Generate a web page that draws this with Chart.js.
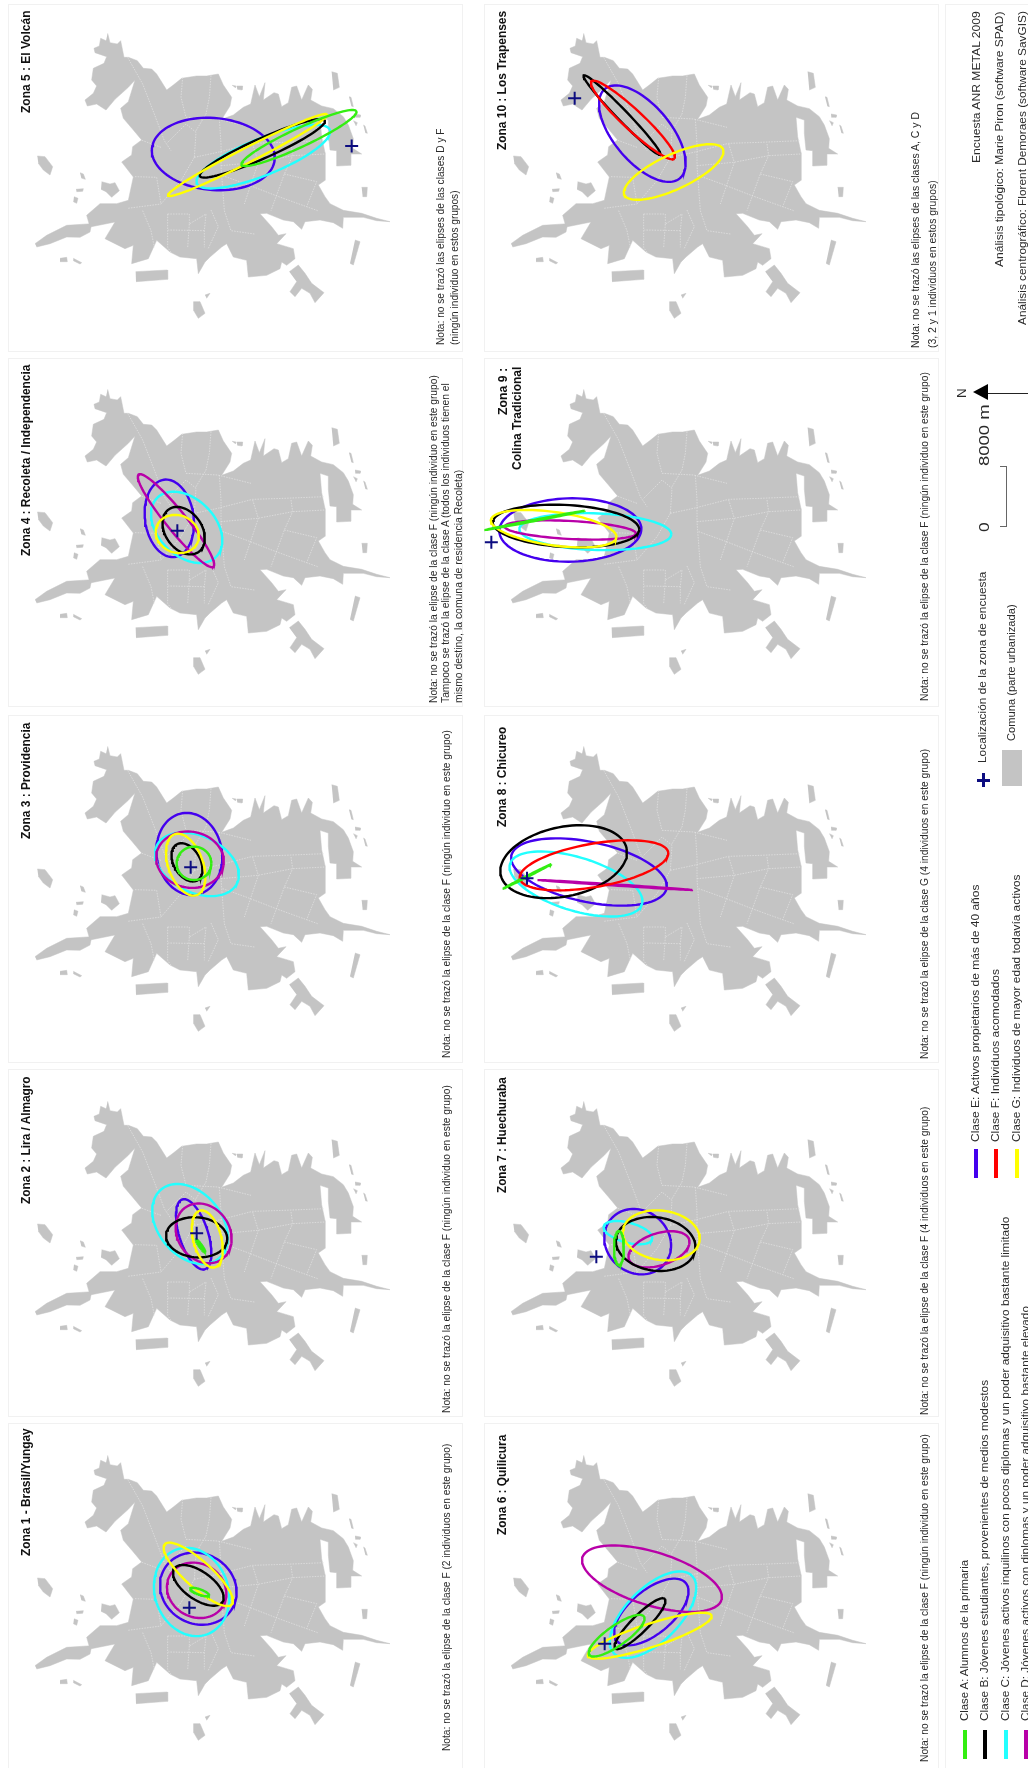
<!DOCTYPE html>
<html lang="es"><head><meta charset="utf-8">
<script src="https://cdn.jsdelivr.net/npm/chart.js@4"></script>
<style>
html,body{margin:0;padding:0;background:#fff}
#page{position:relative;width:1028px;height:1768px;overflow:hidden;font-family:"Liberation Sans",Arial,sans-serif;filter:blur(0.35px)}
.panel{position:absolute;border:1.5px solid #f1f1f1;box-sizing:border-box}
canvas{position:absolute;display:block}
.t{position:absolute;white-space:nowrap;transform-origin:0 0;color:#2a2a2a}
.s{position:absolute}
</style></head><body><div id="page"></div>
<script>
// Class colours and legend
const CLASS_COLORS = {A:'#33ee11',B:'#000000',C:'#22ffff',D:'#b800a8',E:'#4400ee',F:'#ff0000',G:'#ffff00'};
const DRAW_ORDER = ['E','C','D','B','F','G','A'];
// Urban area outline, map units
const MAP_MAIN = [[323,100],[330,128],[352,132],[362,122],[372,172],[385,172],[412,182],[430,205],[455,207],[470,222],[500,270],[520,255],[545,235],[590,228],[620,228],[655,222],[670,255],[695,292],[690,318],[665,358],[700,345],[730,322],[752,312],[765,255],[778,290],[795,248],[790,300],[822,278],[835,282],[845,320],[865,308],[875,262],[890,258],[905,300],[925,255],[937,268],[932,300],[965,318],[1000,326],[1030,350],[1045,375],[1060,416],[1058,445],[1085,462],[1052,462],[1052,496],[1010,498],[1010,452],[990,450],[985,400],[985,360],[960,352],[965,410],[975,458],[975,541],[955,555],[975,590],[990,611],[1030,631],[1085,640],[1130,655],[1170,665],[1130,662],[1090,652],[1030,652],[1028,685],[1000,668],[960,660],[915,665],[905,688],[880,665],[850,660],[800,640],[780,641],[815,680],[835,706],[858,701],[830,731],[880,746],[885,776],[860,796],[845,786],[840,806],[800,826],[745,831],[740,781],[700,771],[680,731],[665,741],[630,771],[615,786],[595,821],[590,776],[540,771],[510,756],[470,721],[445,776],[395,791],[400,736],[375,746],[315,716],[345,666],[270,681],[260,646],[300,611],[350,611],[385,601],[400,531],[365,486],[395,465],[398,440],[425,420],[400,390],[370,355],[362,325],[385,305],[405,240],[385,262],[345,298],[318,330],[290,312],[262,318],[255,300],[280,280],[290,258],[275,240],[280,205],[312,190],[320,170],[285,158],[282,145],[298,138],[302,115],[318,122]];
const MAP_ISLANDS = [
 [[407,815],[502,810],[503,838],[408,845]],
 [[112,468],[135,470],[158,500],[150,525],[130,510],[115,490]],
 [[240,518],[250,522],[256,538],[244,534]],
 [[305,545],[330,552],[345,548],[358,572],[335,592],[318,575],[303,568]],
 [[228,568],[250,566],[248,574],[230,575]],
 [[222,590],[234,595],[230,610],[220,605]],
 [[105,731],[140,706],[200,676],[275,671],[270,696],[240,712],[200,711],[150,731],[110,741]],
 [[180,775],[200,772],[202,785],[180,785]],
 [[220,775],[245,788],[240,792],[220,782]],
 [[868,815],[895,795],[915,820],[935,850],[972,878],[945,908],[930,880],[905,865],[885,890],[870,875],[890,845]],
 [[1065,720],[1080,725],[1060,795],[1050,790]],
 [[580,905],[600,905],[615,940],[595,955],[580,930]],
 [[615,885],[630,880],[620,895]],
 [[1085,562],[1102,562],[1100,590],[1088,590]],
 [[995,215],[1012,220],[1018,262],[1000,270]],
 [[696,256],[708,258],[706,264]],[[710,258],[728,258],[726,270],[712,268]],
 [[1047,290],[1053,292],[1060,320],[1054,318]],
 [[1065,342],[1082,345],[1080,352],[1066,352]],
 [[1060,362],[1072,368],[1068,378]],
 [[1090,375],[1095,378],[1102,400],[1096,398]]
];
const COMMUNE_LINES = [
 [[383,172],[428,252],[463,342],[493,422],[513,452]],
 [[548,232],[543,292],[558,352]],[[633,227],[628,292],[618,342],[588,392]],
 [[503,427],[558,372],[588,397],[583,472]],
 [[558,352],[653,357],[753,382]],
 [[658,357],[663,432],[663,497],[673,632]],
 [[583,472],[653,457],[758,430],[853,427],[973,422]],
 [[663,497],[773,487],[878,467],[975,462]],
 [[758,432],[775,487],[733,612]],[[873,432],[878,467],[853,522],[813,632]],
 [[668,527],[738,552],[828,587],[953,632]],[[853,522],[950,545],[920,620]],
 [[583,472],[543,542],[483,612],[383,625]],
 [[483,442],[423,420]],[[405,530],[470,532],[483,612]],
 [[428,632],[453,692],[463,742]],
 [[503,642],[503,742],[513,757]],[[503,642],[568,642],[568,672],[618,642],[613,692],[613,742]],
 [[568,672],[563,742]],[[613,692],[505,690]],
 [[673,632],[693,692],[763,702]],[[633,630],[655,680],[625,745]]
];
// Ellipses read per zone: class, centre x, centre y, semi-major, semi-minor, rotation degrees
const ZONE_1 = [['C',575,510,135,110,70],['E',595,500,118,105,30],['D',590,505,92,80,30],['B',595,490,88,42,35],['G',595,457,135,40,42],['A',599,510,30,8,20]];
const ZONE_2 = [['C',570,468,135,95,50],['E',581,499,110,43,72],['D',611,496,95,78,55],['B',590,508,92,60,5],['G',622,513,88,42,75],['A',602,533,24,4,55]];
const ZONE_3 = [['E',568,423,124,98,80],['D',570,440,102,84,10],['C',591,454,133,85,25],['G',557,455,97,52,70],['B',561,448,62,40,60],['A',582,451,52,50,0]];
const ZONE_4 = [['E',508,487,117,73,82],['D',528,494,178,30,51],['C',560,514,125,85,45],['B',551,524,78,55,55],['G',532,534,66,56,20]];
const ZONE_5 = [['E',640,462,185,108,5],['C',790,470,215,55,-22],['B',787,445,205,30,-24],['G',743,465,268,22,-27],['A',897,414,190,28,-25]];
const ZONE_6 = [['D',528,470,218,80,17],['C',531,578,165,80,-45],['E',526,570,135,65,-40],['B',492,605,105,25,-45],['G',521,641,195,35,-18],['A',422,641,100,30,-35]];
const ZONE_7 = [['E',485,521,105,93,40],['C',456,494,75,30,15],['B',539,528,120,80,8],['D',549,544,95,48,-18],['G',556,502,116,74,8],['A',429,540,51,15,90]];
const ZONE_8 = [['B',263,446,193,104,-12],['E',339,477,238,90,12],['C',300,513,207,80,17],['F',354,457,226,65,-10],['D',418,516,231,2,3.7],['A',154,490,80,2,-27]];
const ZONE_9 = [['E',283,522,213,95,-1],['C',358,527,228,55,2],['B',270,510,220,63,3],['D',283,522,197,27,3],['G',233,518,190,50,8],['A',177,493,152,2,-11]];
const ZONE_10 = [['E',499,401,175,85,50],['F',471,360,170,30,43],['B',438,345,165,16,46],['G',593,516,163,52,-25]];
const SURVEY_POINTS = [[568,557],[590,496],[572,463],[532,524],[1055,438],[386,665],[361,566],[153,496],[46,559],[296,295]];
const ZONE_TITLES = [['Zona 1 - Brasil/Yungay'],['Zona 2 : Lira / Almagro'],['Zona 3 : Providencia'],['Zona 4 : Recoleta / Independencia'],['Zona 5 : El Volcán'],['Zona 6 : Quilicura'],['Zona 7 : Huechuraba'],['Zona 8 : Chicureo'],['Zona 9 :','Colina Tradicional'],['Zona 10 : Los Trapenses']];
const LEGEND_TEXT = {A:'Clase A: Alumnos de la primaria',B:'Clase B: Jóvenes estudiantes, provenientes de medios modestos',C:'Clase C: Jóvenes activos inquilinos con pocos diplomas y un poder adquisitivo bastante limitado',D:'Clase D: Jóvenes activos con diplomas y un poder adquisitivo bastante elevado',E:'Clase E: Activos propietarios de más de 40 años',F:'Clase F: Individuos acomodados',G:'Clase G: Individuos de mayor edad todavía activos'};

const ZONES = [ZONE_1,ZONE_2,ZONE_3,ZONE_4,ZONE_5,ZONE_6,ZONE_7,ZONE_8,ZONE_9,ZONE_10];
const page = document.getElementById('page');
const CW=430, CH=345;
const COLX=[0,475.7], ROWY=[1422,1068,713,356,0];
const pts = a => a.map(p=>({x:p[0],y:p[1]}));
function ellipse(e){const [,cx,cy,a,b,d]=e;const f=d*Math.PI/180,o=[];
 for(let i=0;i<=90;i++){const t=i/90*2*Math.PI;
  o.push({x:cx+a*Math.cos(t)*Math.cos(f)-b*Math.sin(t)*Math.sin(f),y:cy+a*Math.cos(t)*Math.sin(f)+b*Math.sin(t)*Math.cos(f)});}
 return o;}
ZONES.forEach((z,i)=>{
 const cv=document.createElement('canvas');
 cv.style.left=COLX[i<5?0:1]+'px';cv.style.top=ROWY[i%5]+'px';cv.style.width=CW+'px';cv.style.height=CH+'px';
 cv.width=CW;cv.height=CH;page.appendChild(cv);
 const poly=(d)=>({label:'Comuna',data:pts(d),showLine:true,fill:'shape',backgroundColor:'#c4c4c4',borderColor:'#c4c4c4',borderWidth:0.5,pointRadius:0,tension:0,order:50});
 const ds=[poly(MAP_MAIN),...MAP_ISLANDS.map(poly)];
 COMMUNE_LINES.forEach(l=>ds.push({label:'Límite',data:pts(l),showLine:true,fill:false,borderColor:'#e4e4e4',borderWidth:0.7,borderDash:[1.5,1.2],pointRadius:0,order:40}));
 DRAW_ORDER.forEach((c,k)=>z.filter(e=>e[0]===c).forEach(e=>ds.push({label:'Clase '+c,data:ellipse(e),showLine:true,fill:false,borderColor:CLASS_COLORS[c],borderWidth:e[4]<5?2.2:2.4,pointRadius:0,tension:0,order:30-k})));
 ds.push({label:'Localización',data:[{x:SURVEY_POINTS[i][0],y:SURVEY_POINTS[i][1]}],pointStyle:'cross',pointRadius:6.5,pointBorderColor:'#0c0c80',pointBorderWidth:2,order:1});
 new Chart(cv,{type:'scatter',data:{datasets:ds},options:{responsive:false,animation:false,devicePixelRatio:1,events:[],
  layout:{padding:0,autoPadding:false},plugins:{legend:{display:false},tooltip:{enabled:false},title:{display:false}},
  scales:{x:{type:'linear',display:false,min:0,max:CW*3},y:{type:'linear',display:false,reverse:true,min:0,max:CH*3}}}});
});
function panel(l,t,r,b){const d=document.createElement('div');d.className='panel';d.style.cssText=`left:${l}px;top:${t}px;width:${r-l}px;height:${b-t}px`;page.insertBefore(d,page.firstChild);}
[[4,352],[358,707],[715,1063],[1069,1417],[1423,1772]].forEach(r=>{panel(8,r[0],463,r[1]);panel(484,r[0],939,r[1]);});
panel(945,4,1040,1772);
// rotated text: xc = centre line, y0 = start (bottom), y1 = end (top)
function txt(s,xc,y0,y1,size,weight,color){const d=document.createElement('div');d.className='t';d.textContent=s;
 d.style.fontSize=size+'px';d.style.lineHeight=size+'px';d.style.fontWeight=weight||'normal';if(color)d.style.color=color;
 d.style.left=(xc-size/2)+'px';d.style.top=y0+'px';page.appendChild(d);
 const k=(y0-y1)/d.offsetWidth;d.style.transform=`rotate(-90deg) scaleX(${k})`;}
function sw(l,t,w,h,c){const d=document.createElement('div');d.className='s';d.style.cssText=`left:${l}px;top:${t}px;width:${w}px;height:${h}px;background:${c}`;page.appendChild(d);}
// titles
const TITLE_POS=[[26,1556,1428],[26,1204,1076],[26,839,723],[26,556,365],[26,113,11],[502,1535,1435],[502,1193,1077],[502,827,727],[503,415,368],[502,150,11]];
ZONE_TITLES.forEach((t,i)=>{const p=TITLE_POS[i];txt(t[0],p[0],p[1],p[2],12,'bold','#111');});
txt('Colina Tradicional',517,470,367,12,'bold','#111');
// notes
const F='Nota: no se trazó la elipse de la clase F (ningún individuo en este grupo)';
txt('Nota: no se trazó la elipse de la clase F (2 individuos en este grupo)',446,1751,1444,10.5);
txt(F,446,1413,1085,10.5);txt(F,446,1058,730,10.5);
txt(F,433,703,375,10.5);txt('Tampoco se trazó la elipse de la clase A (todos los individuos tienen el',445,703,383,10.5);txt('mismo destino, la comuna de residencia Recoleta)',458,703,470,10.5);
txt('Nota: no se trazó las elipses de las clases D y F',440,345,128,10.5);txt('(ningún individuo en estos grupos)',454,345,190,10.5);
txt(F,924,1762,1434,10.5);txt('Nota: no se trazó la elipse de la clase F (4 individuos en este grupo)',924,1415,1107,10.5);
txt('Nota: no se trazó la elipse de la clase G (4 individuos en este grupo)',924,1059,749,10.5);txt(F,924,701,372,10.5);
txt('Nota: no se trazó las elipses de las clases A, C y D',915,348,112,10.5);txt('(3, 2 y 1 individuos en estos grupos)',932,348,180,10.5);
// legend
[['A',965,1721,1560],['B',985,1721,1380],['C',1006,1721,1217],['D',1026,1721,1306]].forEach(r=>{txt(LEGEND_TEXT[r[0]],r[1],r[2],r[3],11.5);sw(r[1]-2,1730,4,29,CLASS_COLORS[r[0]]);});
[['E',976,1142,885],['F',996,1142,969],['G',1017,1142,874]].forEach(r=>{txt(LEGEND_TEXT[r[0]],r[1],r[2],r[3],11.5);sw(r[1]-2,1149,4,29,CLASS_COLORS[r[0]]);});
txt('Localización de la zona de encuesta',983,763,572,11.5);
sw(977,778.5,13,3,'#0c0c80');sw(982,773,3,14,'#0c0c80');
txt('Comuna (parte urbanizada)',1012,741,604,11.5);sw(1002,750,20,36,'#c4c4c4');
txt('0',984,532,522,14);txt('8000 m',984,466,404,14);
sw(1006,466,1.2,61,'#666');sw(1000,466,6,1.2,'#666');sw(1000,526,6,1.2,'#666');
txt('N',962,398,388,12);
sw(988,392.5,40,1,'#222');
const a=document.createElement('div');a.className='s';a.style.cssText='left:973px;top:384px;width:0;height:0;border-top:8.5px solid transparent;border-bottom:8.5px solid transparent;border-right:15px solid #000';page.appendChild(a);
txt('Encuesta ANR METAL 2009',977,163,11,11.5);
txt('Análisis tipológico: Marie Piron (software SPAD)',1000,267,11,11.5);
txt('Análisis centrográfico: Florent Demoraes (software SavGIS)',1023,325,11,11.5);
</script></body></html>
